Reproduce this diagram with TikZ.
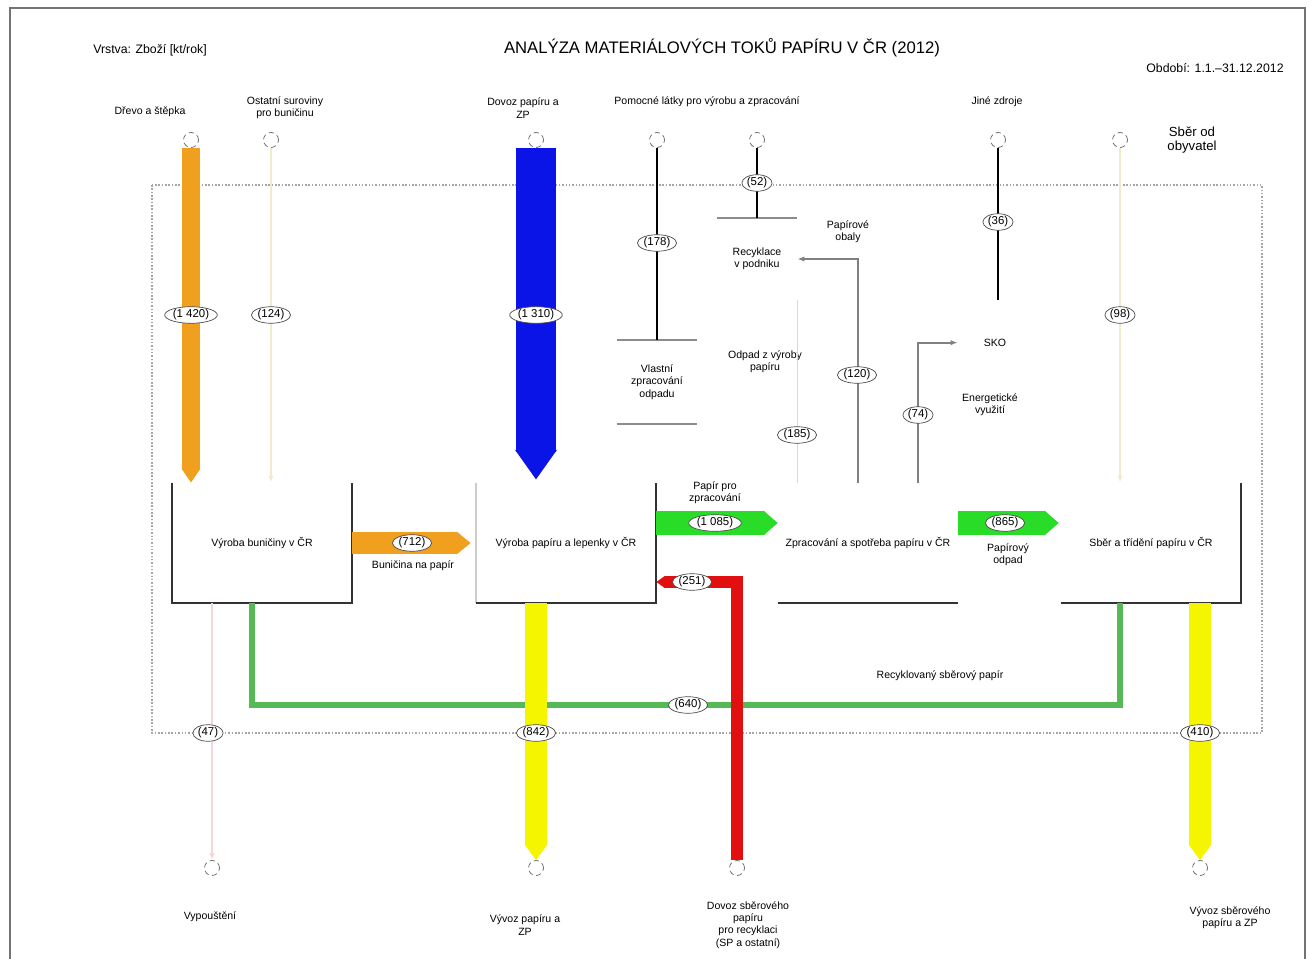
\documentclass[tikz,border=0pt]{standalone}
\usepackage{fontspec}
\setmainfont{Liberation Sans}
\usetikzlibrary{arrows.meta,shapes.geometric}

\definecolor{woodorange}{RGB}{240,160,30}
\definecolor{importblue}{RGB}{10,20,230}
\definecolor{exportyellow}{RGB}{245,245,0}
\definecolor{scrapred}{RGB}{225,15,15}
\definecolor{papergreen}{RGB}{40,220,40}
\definecolor{loopgreen}{RGB}{85,185,85}
\definecolor{paleflow}{RGB}{238,236,205}
\definecolor{pinkflow}{RGB}{245,215,215}

\begin{document}
\begin{tikzpicture}[x=0.02cm,y=-0.02cm,
  every node/.style={font=\fontsize{6}{7}\selectfont,align=center,inner sep=1pt},
  port/.style={circle,draw=black!60,densely dashed,minimum size=0.3cm,inner sep=0pt},
  proc/.style={minimum width=3.6cm,minimum height=2.4cm,inner sep=0pt},
  subproc/.style={minimum width=1.6cm,inner sep=0pt},
  val/.style={ellipse,draw=black!70,fill=white,inner sep=0.3pt,font=\fontsize{6.5}{7}\selectfont},
  side/.style={draw=black!80,line width=1.3pt},
  subline/.style={draw=black!45,line width=1pt},
  blackflow/.style={draw=black,line width=1.4pt},
  grayflow/.style={draw=black!50,line width=1pt,-{Latex[length=4pt,width=3pt]}},
  faintflow/.style={draw=black!15,line width=0.8pt}]

\useasboundingbox (0,0) rectangle (1309,959);
\draw[black!55,line width=1pt] (10,962) -- (10,8) -- (1305,8) -- (1305,962);
\draw[black!35,densely dotted,line width=0.9pt] (152,185) rectangle (1262,733);

\node[font=\fontsize{7}{8}\selectfont] (layer) at (150,50) {Vrstva: Zboží [kt/rok]};
\node[font=\fontsize{9.5}{10}\selectfont] (title) at (722,48) {ANALÝZA MATERIÁLOVÝCH TOKŮ PAPÍRU V ČR (2012)};
\node[font=\fontsize{7}{8}\selectfont] (period) at (1215,68) {Období: 1.1.–31.12.2012};

\node[proc] (p1) at (262,543) {Výroba buničiny v ČR};
\node[proc] (p2) at (566,543) {Výroba papíru a lepenky v ČR};
\node[proc] (p3) at (868,543) {Zpracování a spotřeba papíru v ČR};
\node[proc] (p4) at (1151,543) {Sběr a třídění papíru v ČR};
\draw[side] (p1.north west) -- (p1.south west) -- (p1.south east) -- (p1.north east);
\draw[black!20,line width=1pt] (p2.north west) -- (p2.south west);
\draw[side] (p2.south west) -- (p2.south east) -- (p2.north east);
\draw[side] (p3.south west) -- (p3.south east);
\draw[side] (p4.south west) -- (p4.south east) -- (p4.north east);

\node[port] (i1) at (191,140) {};
\node[port] (i2) at (271,140) {};
\node[port] (i3) at (536,140) {};
\node[port] (i4) at (657,140) {};
\node[port] (i5) at (757,140) {};
\node[port] (i6) at (998,140) {};
\node[port] (i7) at (1120,140) {};
\node (l1) at (150,112) {Dřevo a štěpka};
\node (l2) at (285,108) {Ostatní suroviny\\pro buničinu};
\node (l3) at (523,108) {Dovoz papíru a\\ZP};
\node (l4) at (707,102) {Pomocné látky pro výrobu a zpracování};
\node (l6) at (997,102) {Jiné zdroje};
\node[font=\fontsize{7.5}{8}\selectfont] (l7) at (1192,140) {Sběr od\\obyvatel};

\node[port] (o1) at (212,868) {};
\node[port] (o2) at (536,868) {};
\node[port] (o3) at (737,868) {};
\node[port] (o4) at (1200,868) {};
\node (k1) at (210,917) {Vypouštění};
\node (k2) at (525,925) {Vývoz papíru a\\ZP};
\node (k3) at (748,925) {Dovoz sběrového\\papíru\\pro recyklaci\\(SP a ostatní)};
\node (k4) at (1230,918) {Vývoz sběrového\\papíru a ZP};

\node[subproc,minimum height=1.66cm] (sb1) at (657,382) {Vlastní\\zpracování\\odpadu};
\draw[subline] (sb1.north west) -- (sb1.north east);
\draw[subline] (sb1.south west) -- (sb1.south east);
\node[subproc,minimum height=1.64cm] (sb2) at (757,259) {Recyklace\\v podniku};
\draw[subline] (sb2.north west) -- (sb2.north east);
\node[subproc,minimum height=3.4cm] (sb3) at (998,385) {};
\node (sko) at (995,343) {SKO};
\node (enrg) at (990,405) {Energetické\\využití};
\node (t1) at (848,232) {Papírové\\obaly};
\node (t2) at (765,362) {Odpad z výroby\\papíru};
\node (t3) at (413,566) {Buničina na papír};
\node (t4) at (715,493) {Papír pro\\zpracování};
\node (t5) at (1008,555) {Papírový\\odpad};
\node (t6) at (940,676) {Recyklovaný sběrový papír};

\draw[woodorange,line width=10.2pt,-{Triangle[length=8pt,width=10.2pt]}] (i1.south) -- (i1 |- p1.north);
\draw[paleflow,line width=1.4pt,-{Latex[length=4pt,width=3pt]}] (i2.south) -- (i2 |- p1.north);
\draw[importblue,line width=22.7pt,-{Triangle[length=17pt,width=22.7pt]}] (i3.south) -- ([yshift=0.06cm]i3 |- p2.north);
\draw[blackflow] (i4.south) -- (sb1.north);
\draw[blackflow] (i5.south) -- (sb2.north);
\draw[blackflow] (i6.south) -- (sb3.north);
\draw[paleflow,line width=1.4pt,-{Latex[length=4pt,width=3pt]}] (i7.south) -- (i7 |- p4.north);

\draw[woodorange,line width=12.5pt,-{Triangle[length=8pt,width=12.5pt]}] (p1.east) -- ([xshift=-0.1cm]p2.west);
\draw[papergreen,line width=13.6pt,-{Triangle[length=8pt,width=13.6pt]}] ([yshift=0.4cm]p2.east) -- ([yshift=0.4cm]p3.west);
\draw[papergreen,line width=13.6pt,-{Triangle[length=8pt,width=13.6pt]}] ([yshift=0.4cm]p3.east) -- ([yshift=0.4cm,xshift=-0.04cm]p4.west);
\draw[loopgreen,line width=3.4pt] (p4.south -| 1120,0) |- (688,705) -| (p1.south -| 252,0);

\draw[pinkflow,line width=1.4pt,-{Latex[length=4pt,width=3pt]}] (p1.south -| o1) -- (o1.north);
\draw[exportyellow,line width=12.5pt,-{Triangle[length=9pt,width=12.5pt]}] (p2.south -| o2) -- (o2.north);
\draw[exportyellow,line width=12.5pt,-{Triangle[length=9pt,width=12.5pt]}] (p4.south -| o4) -- (o4.north);
\draw[scrapred,line width=6.8pt,-{Triangle[length=5pt,width=6.8pt]}] (o3.north) |- ([yshift=-0.78cm]p2.east);

\draw[grayflow] (p3.north -| 858,0) |- (sb2.east);
\draw[grayflow] (p3.north -| 918,0) |- ([yshift=-0.86cm]sb3.north west);
\draw[faintflow] (sb2.south east) -- (sb2.south east |- p3.north);

\node[val] (v1) at (191,315) {(1 420)};
\node[val] (v2) at (271,315) {(124)};
\node[val] (v3) at (536,315) {(1 310)};
\node[val] (v4) at (657,243) {(178)};
\node[val] (v5) at (757,183) {(52)};
\node[val] (v6) at (998,222) {(36)};
\node[val] (v7) at (1120,315) {(98)};
\node[val] (v8) at (412,543) {(712)};
\node[val] (v9) at (715,523) {(1 085)};
\node[val] (v10) at (1005,523) {(865)};
\node[val] (v11) at (688,705) {(640)};
\node[val] (v12) at (692,582) {(251)};
\node[val] (v13) at (536,733) {(842)};
\node[val] (v14) at (1200,733) {(410)};
\node[val] (v15) at (208,733) {(47)};
\node[val] (v16) at (857,375) {(120)};
\node[val] (v17) at (797,435) {(185)};
\node[val] (v18) at (918,415) {(74)};
\end{tikzpicture}
\end{document}
